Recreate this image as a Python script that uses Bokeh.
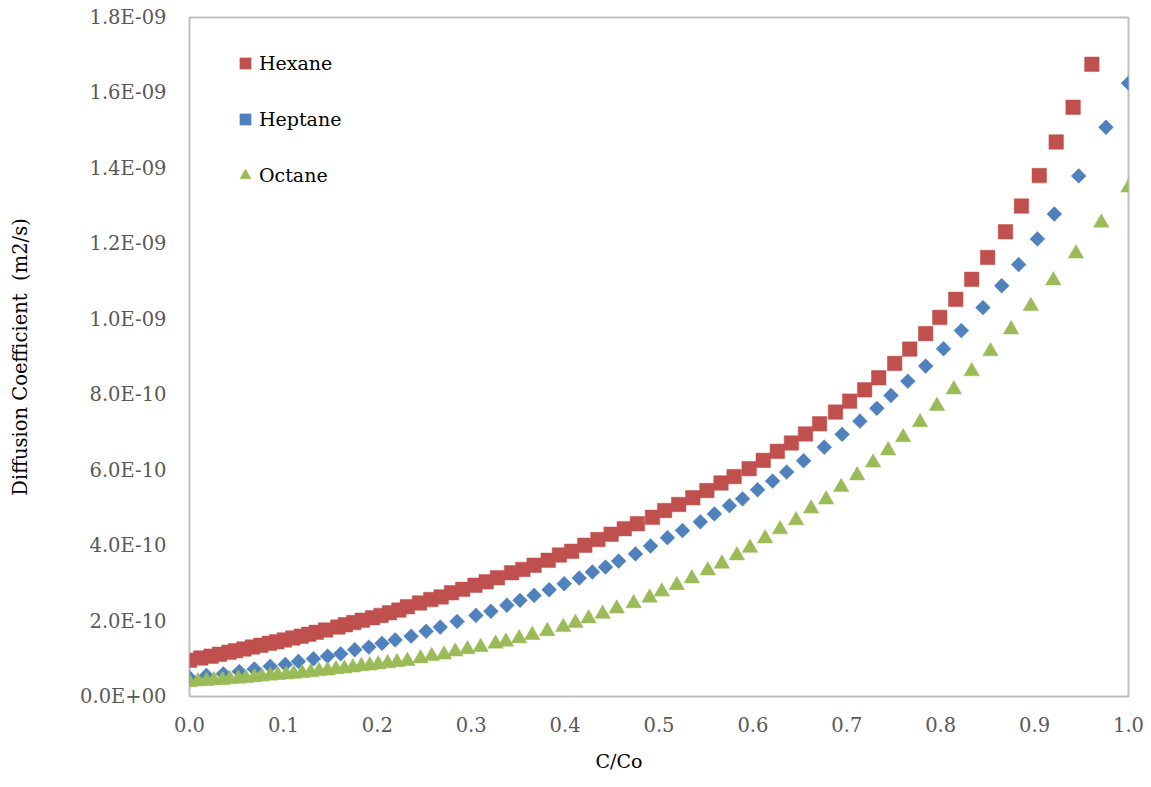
import numpy as np
from bokeh.plotting import figure
from bokeh.models import (Range1d, FixedTicker, CustomJSTickFormatter, Legend, LegendItem,
                          ColumnDataSource, Title)
from bokeh.embed import file_html
from bokeh.resources import INLINE

# ---------------- data (C/Co, diffusion coefficient in units of 1e-9 m2/s) ----------------
hex_x = [0.000, 0.012, 0.023, 0.032, 0.042, 0.049, 0.058, 0.067, 0.076, 0.085, 0.093, 0.101, 0.110, 0.119, 0.127,
         0.135, 0.145, 0.158, 0.166, 0.175, 0.184, 0.195, 0.204, 0.213, 0.223, 0.232, 0.245, 0.257, 0.268, 0.279,
         0.291, 0.304, 0.316, 0.328, 0.343, 0.355, 0.367, 0.382, 0.394, 0.407, 0.421, 0.435, 0.449, 0.463, 0.477,
         0.493, 0.506, 0.521, 0.536, 0.551, 0.566, 0.580, 0.596, 0.611, 0.626, 0.641, 0.656, 0.671, 0.688, 0.703,
         0.719, 0.734, 0.751, 0.767, 0.784, 0.799, 0.816, 0.833, 0.850, 0.869, 0.886, 0.905, 0.923, 0.941, 0.961]
hex_y = [0.096, 0.102, 0.107, 0.112, 0.117, 0.121, 0.126, 0.131, 0.136, 0.141, 0.145, 0.150, 0.155, 0.160, 0.165,
         0.170, 0.176, 0.184, 0.190, 0.196, 0.202, 0.209, 0.215, 0.222, 0.229, 0.238, 0.248, 0.257, 0.264, 0.275,
         0.284, 0.295, 0.304, 0.315, 0.328, 0.337, 0.348, 0.361, 0.375, 0.385, 0.401, 0.416, 0.430, 0.445, 0.458,
         0.475, 0.493, 0.509, 0.527, 0.546, 0.566, 0.583, 0.604, 0.626, 0.650, 0.672, 0.696, 0.723, 0.754, 0.783,
         0.813, 0.845, 0.883, 0.921, 0.962, 1.005, 1.053, 1.106, 1.164, 1.232, 1.300, 1.381, 1.470, 1.562, 1.676]

hep_x = [0.000, 0.018, 0.036, 0.053, 0.069, 0.086, 0.102, 0.116, 0.132, 0.147, 0.161, 0.176, 0.191, 0.205, 0.219,
         0.236, 0.252, 0.267, 0.285, 0.305, 0.321, 0.338, 0.352, 0.367, 0.383, 0.399, 0.415, 0.429, 0.443, 0.457,
         0.475, 0.491, 0.509, 0.525, 0.544, 0.559, 0.575, 0.589, 0.605, 0.621, 0.636, 0.654, 0.676, 0.695, 0.714,
         0.732, 0.747, 0.765, 0.784, 0.803, 0.822, 0.845, 0.865, 0.883, 0.903, 0.921, 0.947, 0.976, 1.000]
hep_y = [0.050, 0.056, 0.060, 0.066, 0.073, 0.080, 0.085, 0.093, 0.100, 0.107, 0.113, 0.124, 0.131, 0.141, 0.150,
         0.160, 0.173, 0.184, 0.199, 0.215, 0.226, 0.242, 0.255, 0.268, 0.283, 0.299, 0.314, 0.330, 0.343, 0.359,
         0.378, 0.399, 0.421, 0.440, 0.463, 0.484, 0.506, 0.524, 0.548, 0.571, 0.595, 0.625, 0.661, 0.695, 0.730,
         0.764, 0.798, 0.836, 0.876, 0.922, 0.970, 1.031, 1.089, 1.145, 1.213, 1.279, 1.380, 1.509, 1.626]

oct_x = [0.000, 0.009, 0.018, 0.026, 0.035, 0.043, 0.052, 0.060, 0.069, 0.077, 0.086, 0.094, 0.103, 0.111, 0.120,
         0.129, 0.138, 0.147, 0.156, 0.165, 0.174, 0.183, 0.192, 0.201, 0.211, 0.221, 0.232, 0.246, 0.258, 0.271,
         0.283, 0.296, 0.310, 0.326, 0.337, 0.351, 0.365, 0.381, 0.398, 0.411, 0.425, 0.440, 0.455, 0.473, 0.490,
         0.503, 0.519, 0.535, 0.552, 0.567, 0.583, 0.597, 0.613, 0.629, 0.646, 0.662, 0.678, 0.694, 0.711, 0.728,
         0.744, 0.760, 0.778, 0.796, 0.814, 0.833, 0.853, 0.875, 0.896, 0.920, 0.944, 0.971, 1.000]
oct_y = [0.038, 0.040, 0.041, 0.043, 0.044, 0.046, 0.047, 0.049, 0.051, 0.053, 0.055, 0.057, 0.058, 0.060, 0.062,
         0.064, 0.067, 0.069, 0.072, 0.074, 0.077, 0.080, 0.082, 0.085, 0.088, 0.091, 0.094, 0.101, 0.107, 0.111,
         0.119, 0.125, 0.131, 0.140, 0.145, 0.154, 0.163, 0.173, 0.184, 0.195, 0.207, 0.219, 0.233, 0.247, 0.262,
         0.278, 0.295, 0.313, 0.334, 0.352, 0.374, 0.394, 0.419, 0.443, 0.467, 0.498, 0.522, 0.555, 0.586, 0.620,
         0.652, 0.687, 0.727, 0.770, 0.814, 0.862, 0.915, 0.973, 1.035, 1.103, 1.174, 1.256, 1.349]

series_names = ["Hexane", "Heptane", "Octane"]
unit = 1e-9

x_ticks = [0.0, 0.1, 0.2, 0.3, 0.4, 0.5, 0.6, 0.7, 0.8, 0.9, 1.0]
x_tick_labels = ["0.0", "0.1", "0.2", "0.3", "0.4", "0.5", "0.6", "0.7", "0.8", "0.9", "1.0"]
y_ticks = [0.0, 2e-10, 4e-10, 6e-10, 8e-10, 1e-9, 1.2e-9, 1.4e-9, 1.6e-9, 1.8e-9]
y_tick_labels = ["0.0E+00", "2.0E-10", "4.0E-10", "6.0E-10", "8.0E-10", "1.0E-09",
                 "1.2E-09", "1.4E-09", "1.6E-09", "1.8E-09"]
x_title = "C/Co"
y_title = "Diffusion Coefficient \u00a0(m2/s)"

FONT = "DejaVu Serif"

p = figure(width=1151, height=787, output_backend="svg", toolbar_location=None,
           x_range=Range1d(0, 1.0), y_range=Range1d(0, 1.8e-9),
           min_border_left=189, min_border_right=23, min_border_top=17, min_border_bottom=91)
p.background_fill_color = "white"
p.border_fill_color = "white"
p.outline_line_color = "#BFBFBF"
p.outline_line_width = 2
p.xgrid.visible = False
p.ygrid.visible = False

label_js = """
let best = 0, bd = Infinity;
for (let i = 0; i < tvals.length; i++) {
  const d = Math.abs(tvals[i] - tick);
  if (d < bd) { bd = d; best = i; }
}
return tlabels[best];
"""
p.xaxis.ticker = FixedTicker(ticks=x_ticks)
p.xaxis.formatter = CustomJSTickFormatter(args=dict(tvals=x_ticks, tlabels=x_tick_labels), code=label_js)
p.yaxis.ticker = FixedTicker(ticks=y_ticks)
p.yaxis.formatter = CustomJSTickFormatter(args=dict(tvals=y_ticks, tlabels=y_tick_labels), code=label_js)

for ax in (p.xaxis[0], p.yaxis[0]):
    ax.axis_line_color = None
    ax.major_tick_line_color = None
    ax.minor_tick_line_color = None
    ax.major_tick_out = 0
    ax.major_tick_in = 0
    ax.major_label_text_font = FONT
    ax.major_label_text_font_size = "19.5px"
    ax.major_label_text_color = "#595959"
    ax.axis_label_text_font = FONT
    ax.axis_label_text_font_style = "normal"
    ax.axis_label_text_color = "#000000"

p.xaxis.major_label_standoff = 20
p.yaxis.axis_label = y_title
p.yaxis.axis_label_text_font_size = "19.5px"
p.yaxis.major_label_standoff = 23
p.yaxis.axis_label_standoff = 45

# x-axis title (Excel places it slightly left of the frame centre)
p.add_layout(Title(text=x_title, align="left", offset=406, standoff=27,
                   text_font=FONT, text_font_size="19px", text_font_style="normal",
                   text_color="#000000"), "below")

colors = ["#C0504D", "#4F81BD", "#9BBB59"]

src_hex = ColumnDataSource(dict(x=hex_x, y=[v * unit for v in hex_y]))
src_hep = ColumnDataSource(dict(x=hep_x, y=[v * unit for v in hep_y]))
src_oct = ColumnDataSource(dict(x=oct_x, y=[v * unit for v in oct_y]))

r_hex = p.scatter("x", "y", source=src_hex, marker="square", size=14.5,
                  fill_color=colors[0], line_color=colors[0], line_width=0.5)
r_hep = p.scatter("x", "y", source=src_hep, marker="square", angle=np.pi / 4, size=10.5,
                  fill_color=colors[1], line_color=colors[1], line_width=0.5)
r_oct = p.scatter("x", "y", source=src_oct, marker="triangle", size=15.5,
                  fill_color=colors[2], line_color=colors[2], line_width=0.5)

legend = Legend(items=[LegendItem(label=series_names[0], renderers=[r_hex]),
                       LegendItem(label=series_names[1], renderers=[r_hep]),
                       LegendItem(label=series_names[2], renderers=[r_oct])],
                location=(42, 506), orientation="vertical",
                glyph_width=28, glyph_height=30, spacing=26, padding=0, margin=0,
                label_standoff=0, label_text_font=FONT, label_text_font_size="19px",
                label_text_color="#000000", border_line_color=None, background_fill_alpha=0)
p.add_layout(legend, "center")

open("out.html", "w").write(file_html(p, INLINE))
